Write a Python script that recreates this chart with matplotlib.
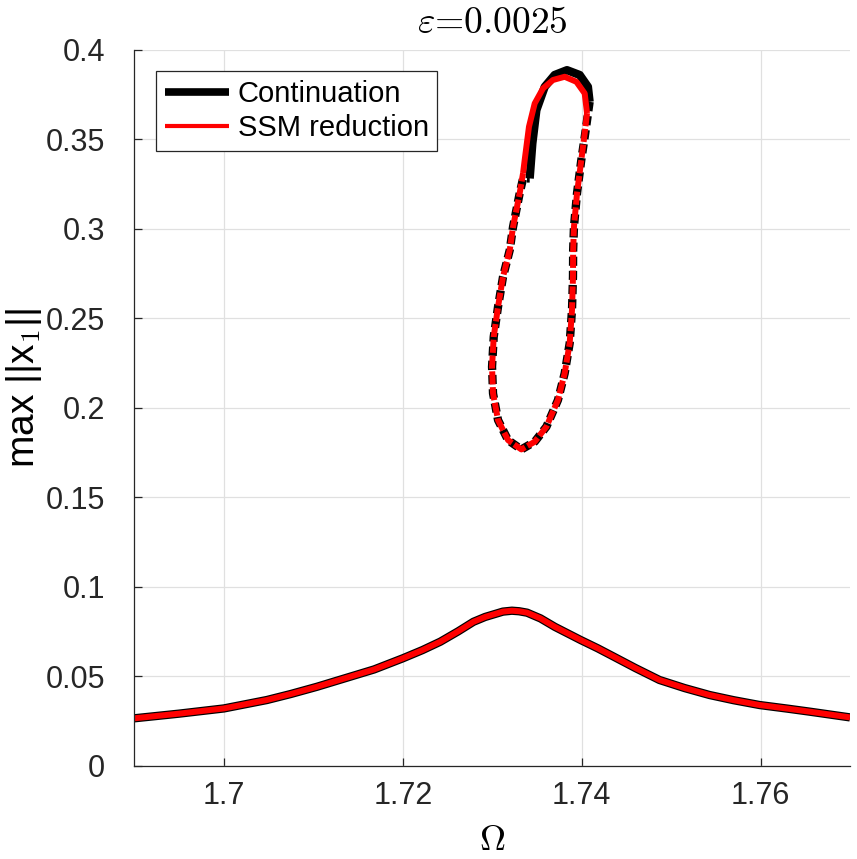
import matplotlib
matplotlib.use("Agg")
import matplotlib.pyplot as plt

plt.rcParams['font.family'] = ['Liberation Sans', 'DejaVu Sans']
plt.rcParams['mathtext.fontset'] = 'cm'

# lower (resonant) branch, both methods
lower_omega = [1.69, 1.695, 1.70, 1.7048, 1.7075, 1.7104, 1.7168, 1.72, 1.7222,
               1.7242, 1.7262, 1.7279, 1.7292, 1.7302, 1.7312, 1.7322, 1.7330,
               1.7339, 1.7354, 1.7370, 1.7399, 1.7418, 1.7436, 1.7460, 1.7487,
               1.7515, 1.7543, 1.7570, 1.7599, 1.7630, 1.7655, 1.77]
lower_cont = [0.0264, 0.0290, 0.0319, 0.0366, 0.0400, 0.044, 0.0537, 0.0599, 0.0645,
              0.0692, 0.0750, 0.0803, 0.0830, 0.0845, 0.0860, 0.0865, 0.0862,
              0.0854, 0.0822, 0.0775, 0.0701, 0.0655, 0.0608, 0.0545, 0.0478,
              0.0433, 0.0394, 0.0365, 0.0338, 0.0318, 0.0301, 0.0269]
lower_ssm = [0.0264, 0.0290, 0.0319, 0.0366, 0.0400, 0.044, 0.0537, 0.0599, 0.0645,
             0.0692, 0.0750, 0.0803, 0.0830, 0.0845, 0.0860, 0.0865, 0.0862,
             0.0854, 0.0822, 0.0775, 0.0701, 0.0655, 0.0608, 0.0545, 0.0478,
             0.0433, 0.0394, 0.0365, 0.0338, 0.0318, 0.0301, 0.0269]

# isola, continuation
cont_stable_omega = [1.73419, 1.73449, 1.73494, 1.73587, 1.73698, 1.73836, 1.73978,
                     1.7407, 1.74089]
cont_stable_amp = [0.3280, 0.3476, 0.3662, 0.3792, 0.3858, 0.3885, 0.3858,
                   0.3792, 0.3708]
cont_unstable_omega = [1.74089, 1.74040, 1.73996, 1.73948, 1.73914, 1.73905, 1.73903,
                       1.73892, 1.73866, 1.7381, 1.73735, 1.73606, 1.73475, 1.73326,
                       1.73177, 1.73065, 1.73009, 1.72998, 1.73017, 1.73065, 1.73121,
                       1.73196, 1.73233, 1.73307, 1.73345, 1.73419]
cont_unstable_amp = [0.3708, 0.3532, 0.3383, 0.3197, 0.3010, 0.2880, 0.2731,
                     0.2545, 0.2359, 0.2191, 0.2042, 0.1893, 0.1809, 0.1766,
                     0.1818, 0.1930, 0.2079, 0.2228, 0.2396, 0.2563, 0.2731,
                     0.2880, 0.3010, 0.3197, 0.3280, 0.3280]

# isola, SSM reduction
ssm_stable_omega = [1.73345, 1.73363, 1.73411, 1.73475, 1.73568, 1.73679, 1.7381,
                    1.73941, 1.74034, 1.7406]
ssm_stable_amp = [0.3310, 0.3383, 0.3569, 0.3699, 0.3783, 0.3830, 0.3848,
                  0.3820, 0.3755, 0.3645]
ssm_unstable_omega = [1.7406, 1.74034, 1.73996, 1.73948, 1.73914, 1.73905, 1.73903,
                      1.73892, 1.73866, 1.7381, 1.73735, 1.73606, 1.73475, 1.73326,
                      1.73177, 1.73065, 1.73009, 1.72998, 1.73017, 1.73065, 1.73121,
                      1.73196, 1.73233, 1.73307, 1.73345]
ssm_unstable_amp = [0.3645, 0.3532, 0.3383, 0.3197, 0.3010, 0.2880, 0.2731,
                    0.2545, 0.2359, 0.2191, 0.2042, 0.1893, 0.1809, 0.1766,
                    0.1818, 0.1930, 0.2079, 0.2228, 0.2396, 0.2563, 0.2731,
                    0.2880, 0.3010, 0.3197, 0.3310]

xticks = [1.70, 1.72, 1.74, 1.76]
xticklabels = ['1.7', '1.72', '1.74', '1.76']
yticks = [0, 0.05, 0.1, 0.15, 0.2, 0.25, 0.3, 0.35, 0.4]
yticklabels = ['0', '0.05', '0.1', '0.15', '0.2', '0.25', '0.3', '0.35', '0.4']

fig = plt.figure(figsize=(8.57, 8.59), dpi=100)
ax = fig.add_axes([0.1569, 0.1088, 0.8349, 0.8335])

black_lw = 6
red_lw = 4.3

l1, = ax.plot(lower_omega, lower_cont, color='k', lw=black_lw, solid_capstyle='butt')
ax.plot(cont_stable_omega, cont_stable_amp, color='k', lw=black_lw,
        solid_capstyle='butt', solid_joinstyle='round')
ax.plot(cont_unstable_omega, cont_unstable_amp, color='k', lw=black_lw,
        linestyle=(0, (1.1, 0.6)), dash_capstyle='butt')

l2, = ax.plot(lower_omega, lower_ssm, color='r', lw=red_lw, solid_capstyle='butt')
ax.plot(ssm_stable_omega, ssm_stable_amp, color='r', lw=red_lw,
        solid_capstyle='butt', solid_joinstyle='round')
ax.plot(ssm_unstable_omega, ssm_unstable_amp, color='r', lw=red_lw,
        linestyle=(0, (2.2, 0.45)), dash_capstyle='butt')

ax.set_xlim(1.69, 1.77)
ax.set_ylim(0, 0.4)
ax.set_xticks(xticks)
ax.set_xticklabels(xticklabels)
ax.set_yticks(yticks)
ax.set_yticklabels(yticklabels)

ax.grid(True, color='#e0e0e0', lw=0.9)
ax.set_axisbelow(True)
for s in ['top', 'right']:
    ax.spines[s].set_visible(False)
for s in ['left', 'bottom']:
    ax.spines[s].set_color('#262626')
    ax.spines[s].set_linewidth(0.9)
ax.tick_params(direction='in', length=6, width=0.9, colors='#262626',
               labelsize=22, labelcolor='#262626')
ax.tick_params(axis='y', pad=21)
ax.tick_params(axis='x', pad=11)

ax.set_xlabel(r'$\Omega$', fontsize=26, labelpad=9)
ax.set_ylabel(r'max ||x$_1$||', fontsize=28)
ax.yaxis.set_label_coords(-0.127, 0.527)
ax.set_title(r'$\varepsilon$=0.0025', fontsize=27, pad=12,
             fontfamily='cmr10', math_fontfamily='cm')

leg = ax.legend([l1, l2], ['Continuation', 'SSM reduction'], loc='upper left',
                bbox_to_anchor=(0.030, 0.970), borderaxespad=0, fontsize=21,
                fancybox=False, framealpha=1, edgecolor='#262626',
                handlelength=2.2, handletextpad=0.3, borderpad=0.3,
                labelspacing=0.22)
leg.get_frame().set_linewidth(0.9)
leg.legend_handles[0].set_linewidth(5.5)
leg.legend_handles[1].set_linewidth(3)

fig.savefig('out.png', dpi=100)
